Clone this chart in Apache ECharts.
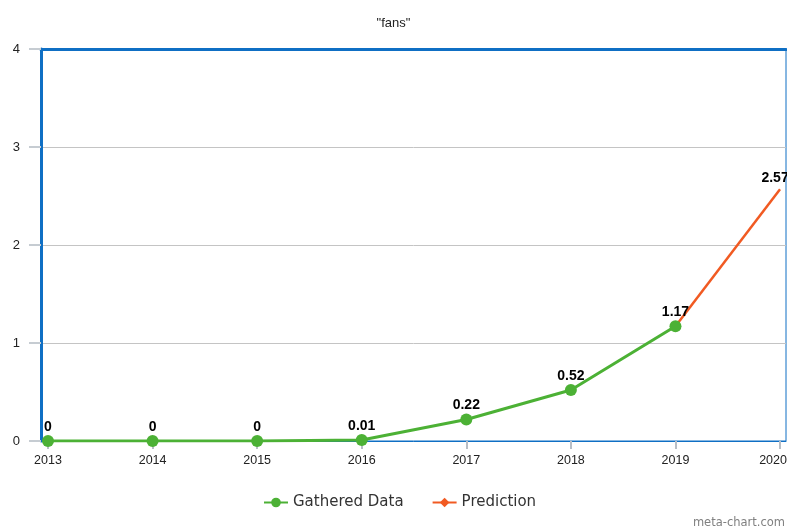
<!DOCTYPE html>
<html>
<head>
<meta charset="utf-8">
<script src="https://cdn.jsdelivr.net/npm/echarts@6/dist/echarts.min.js"></script>
<style>
  html, body { margin: 0; padding: 0; background: #fff; }
  #chart { width: 787px; height: 530px; }
</style>
</head>
<body>
<div id="chart"></div>
<script>
// Yearly values
const years = [2013, 2014, 2015, 2016, 2017, 2018, 2019, 2020];
const gathered = [0, 0, 0, 0.01, 0.22, 0.52, 1.17, null];
const prediction = [null, null, null, null, null, null, 1.17, 2.57];
const yTicks = [0, 1, 2, 3, 4];

const BLUE = '#0f6fc4';
const GREEN = '#4cb135';
const ORANGE = '#f15a22';

const pairs = (vals) => years.map((y, i) => [y, vals[i]]);
const lastYear = years[years.length - 1];

const labelStyle = {
  show: true,
  position: 'top',
  distance: 1,
  color: '#000',
  fontFamily: 'Liberation Sans, Arial, sans-serif',
  fontWeight: 'bold',
  fontSize: 14
};

const chart = echarts.init(document.getElementById('chart'));
chart.setOption({
  animation: false,
  title: {
    text: '"fans"',
    left: 'center',
    top: 12,
    textStyle: { fontFamily: 'Liberation Sans, Arial, sans-serif', fontSize: 13, fontWeight: 'normal', color: '#222' }
  },
  grid: {
    left: 41, right: 1, top: 49, bottom: 89,
    outerBoundsMode: 'none',
    containLabel: false,
    show: true, borderColor: BLUE, borderWidth: 1
  },
  xAxis: [{
    type: 'value',
    min: 2012.933,
    max: 2020.057,
    splitLine: { show: false },
    axisLine: { show: true, lineStyle: { color: BLUE, width: 1 } },
    axisTick: { show: true, length: 8, customValues: years, lineStyle: { color: '#b8bec6', width: 2 } },
    axisLabel: {
      customValues: years,
      margin: 13,
      color: '#222',
      fontSize: 12.5,
      fontFamily: 'Liberation Sans, Arial, sans-serif',
      hideOverlap: false,
      // the last year label is nudged left so it stays inside the canvas
      formatter: (v) => (v === lastYear ? '{edge|' + v + '}' : String(v)),
      rich: {
        edge: {
          color: '#222',
          fontSize: 12.5,
          fontFamily: 'Liberation Sans, Arial, sans-serif',
          padding: [0, 14, 0, 0]
        }
      }
    }
  }, {
    type: 'value',
    position: 'top',
    min: 2012.933,
    max: 2020.057,
    axisLine: { show: true, lineStyle: { color: BLUE, width: 3 } },
    axisTick: { show: false },
    axisLabel: { show: false },
    splitLine: { show: false }
  }],
  yAxis: {
    type: 'value',
    min: 0,
    max: 4,
    interval: 1,
    axisLine: { show: true, lineStyle: { color: BLUE, width: 3 } },
    axisTick: { show: true, length: 12, lineStyle: { color: '#c6ccd2', width: 2 } },
    axisLabel: {
      margin: 21,
      color: '#222',
      fontSize: 13,
      fontFamily: 'Liberation Sans, Arial, sans-serif',
      customValues: yTicks
    },
    splitLine: { show: true, lineStyle: { color: '#c4c4c4', width: 1 } }
  },
  legend: {
    bottom: 15,
    left: 258,
    itemGap: 28,
    itemWidth: 24,
    itemHeight: 12,
    textStyle: { fontFamily: 'DejaVu Sans, Verdana, sans-serif', fontSize: 15, color: '#333' },
    data: ['Gathered Data', 'Prediction']
  },
  series: [{
    name: 'Prediction',
    type: 'line',
    data: pairs(prediction).map((p, i) => ({
      value: p,
      symbolSize: 0,
      label: { show: i === years.length - 1, offset: [-5, -3] }
    })),
    color: ORANGE,
    symbol: 'diamond',
    symbolSize: 9,
    showSymbol: true,
    lineStyle: { width: 2.5, color: ORANGE },
    label: labelStyle,
    z: 3
  }, {
    name: 'Gathered Data',
    type: 'line',
    data: pairs(gathered),
    color: GREEN,
    symbol: 'circle',
    symbolSize: 12,
    lineStyle: { width: 3, color: GREEN },
    itemStyle: { color: GREEN },
    label: labelStyle,
    z: 4
  }],
  graphic: [{
    type: 'text',
    right: 2,
    bottom: 1,
    style: {
      text: 'meta-chart.com',
      fill: '#808080',
      font: '11.5px "DejaVu Sans", Verdana, sans-serif'
    }
  }]
});
</script>
</body>
</html>
